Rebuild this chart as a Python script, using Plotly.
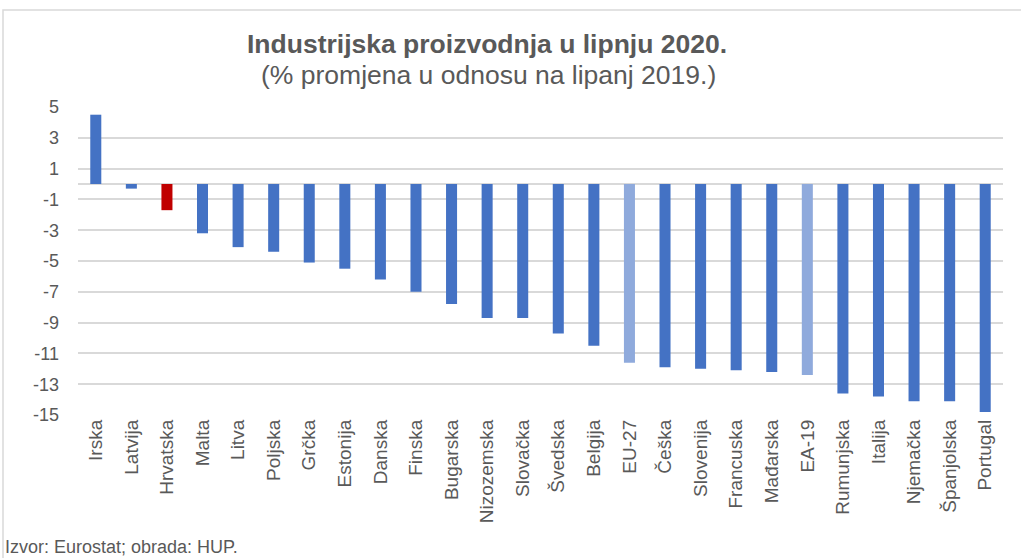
import plotly.graph_objects as go

categories = ["Irska", "Latvija", "Hrvatska", "Malta", "Litva", "Poljska", "Grčka",
              "Estonija", "Danska", "Finska", "Bugarska", "Nizozemska", "Slovačka",
              "Švedska", "Belgija", "EU-27", "Češka", "Slovenija", "Francuska",
              "Mađarska", "EA-19", "Rumunjska", "Italija", "Njemačka", "Španjolska",
              "Portugal"]
values = [4.5, -0.3, -1.7, -3.2, -4.1, -4.4, -5.1,
          -5.5, -6.2, -7.0, -7.8, -8.7, -8.7,
          -9.7, -10.5, -11.6, -11.9, -12.0, -12.1,
          -12.2, -12.4, -13.6, -13.8, -14.1, -14.1,
          -14.8]
y_ticks = [5, 3, 1, -1, -3, -5, -7, -9, -11, -13, -15]

BLUE = "#4472C4"
LIGHT = "#8FAADC"
RED = "#C00000"
colors = []
for c in categories:
    if c == "Hrvatska":
        colors.append(RED)
    elif c in ("EU-27", "EA-19"):
        colors.append(LIGHT)
    else:
        colors.append(BLUE)

GREY = "#595959"
FONT = "Liberation Sans, Arial"

fig = go.Figure(go.Bar(x=categories, y=values, marker=dict(color=colors, line=dict(width=0)),
                       width=0.31))

L, R, T, B = 78, 18, 107, 143
W, H = 1021, 558
pw = W - L - R
ph = H - T - B

def px_x(x):
    return (x - L) / pw

def px_y(y):
    return (H - B - y) / ph

fig.update_layout(
    width=W, height=H,
    margin=dict(l=L, r=R, t=T, b=B, autoexpand=False),
    paper_bgcolor="white", plot_bgcolor="white",
    showlegend=False,
    xaxis=dict(tickangle=-90, tickfont=dict(family=FONT, size=19, color=GREY),
               showgrid=False, showline=False, ticks="", automargin=False),
    yaxis=dict(range=[-15, 5], tickvals=y_ticks, ticktext=[str(v) for v in y_ticks],
               tickfont=dict(family=FONT, size=18, color=GREY),
               showgrid=True, gridcolor="#D9D9D9", gridwidth=1.5,
               zeroline=True, zerolinecolor="#D9D9D9", zerolinewidth=1.5,
               showline=False, ticks="", ticklabelstandoff=18, automargin=False),
    annotations=[
        dict(text="<b>Industrijska proizvodnja u lipnju 2020.</b>", xref="paper", yref="paper",
             x=px_x(487), y=px_y(44), xanchor="center", yanchor="middle", showarrow=False,
             font=dict(family=FONT, size=26.5, color=GREY)),
        dict(text="(% promjena u odnosu na lipanj 2019.)", xref="paper", yref="paper",
             x=px_x(488), y=px_y(75), xanchor="center", yanchor="middle", showarrow=False,
             font=dict(family=FONT, size=26.5, color=GREY)),
        dict(text="Izvor: Eurostat; obrada: HUP.", xref="paper", yref="paper",
             x=px_x(3), y=px_y(547), xanchor="left", yanchor="middle", showarrow=False,
             font=dict(family=FONT, size=18, color=GREY)),
    ],
    shapes=[
        dict(type="rect", xref="paper", yref="paper", x0=px_x(3), x1=px_x(1030),
             y0=px_y(570), y1=px_y(10), line=dict(color="#D9D9D9", width=1.5),
             fillcolor="rgba(0,0,0,0)", layer="below"),
    ],
)

fig.write_html("out.html", config={"displayModeBar": False},
               post_script="document.body.style.margin='0';document.body.style.padding='0';")
